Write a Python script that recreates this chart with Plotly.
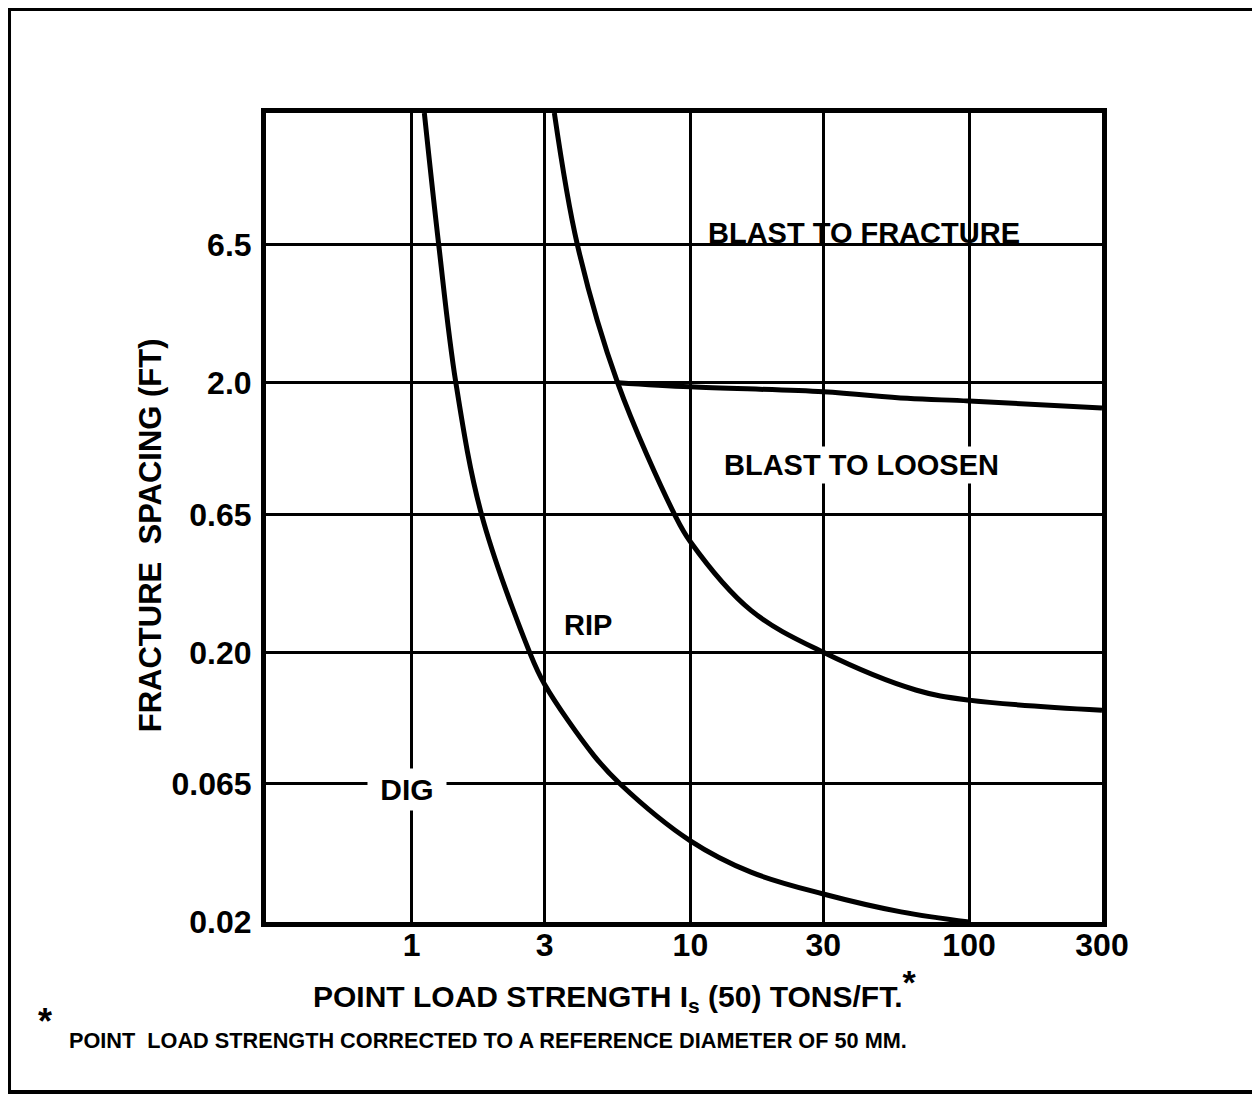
import math
import plotly.graph_objects as go

# ---- data ----
x_ticks = [1, 3, 10, 30, 100, 300]
x_ticktext = ["1", "3", "10", "30", "100", "300"]
y_ticks = [0.02, 0.065, 0.20, 0.65, 2.0, 6.5]
y_ticktext = ["0.02", "0.065", "0.20", "0.65", "2.0", "6.5"]

# DIG / RIP boundary
dig_rip_x = [1.11, 1.25, 1.44, 1.78, 2.65, 3.0, 4.5, 5.6, 10, 16.5, 30, 57, 100]
dig_rip_y = [20, 6.5, 2.0, 0.65, 0.20, 0.152, 0.083, 0.065, 0.040, 0.0306, 0.0254, 0.0218, 0.020]

# RIP / BLAST TO LOOSEN boundary
rip_blast_x = [3.25, 3.93, 5.48, 8.77, 10, 16.5, 30, 64.4, 100, 300]
rip_blast_y = [20, 6.5, 2.0, 0.65, 0.514, 0.286, 0.20, 0.145, 0.133, 0.122]

# BLAST TO LOOSEN / BLAST TO FRACTURE boundary
loosen_fracture_x = [5.48, 10, 30, 60, 100, 300]
loosen_fracture_y = [2.0, 1.93, 1.85, 1.75, 1.71, 1.61]

# region labels: (text, x, y)
region_labels = [
    ("BLAST TO FRACTURE", 42.0, 6.5),
    ("BLAST TO LOOSEN", 41.1, 0.99),
    ("RIP", 4.3, 0.253),
    ("DIG", 0.96, 0.0618),
]

x_range = [0.3, 300]
y_range = [0.02, 20]

FONT = "Liberation Sans, Arial, sans-serif"

fig = go.Figure()
for xs, ys in [(dig_rip_x, dig_rip_y), (rip_blast_x, rip_blast_y),
               (loosen_fracture_x, loosen_fracture_y)]:
    fig.add_trace(go.Scatter(
        x=xs, y=ys, mode="lines",
        line=dict(color="black", width=5, shape="spline", smoothing=1.0),
        showlegend=False, hoverinfo="skip"))

axis_common = dict(
    type="log", showgrid=True, gridcolor="black", gridwidth=3,
    showline=True, linecolor="black", linewidth=5, mirror=True,
    ticks="", zeroline=False,
    tickfont=dict(family=FONT, size=32, color="black", weight="bold"),
)

fig.update_xaxes(range=[math.log10(x_range[0]), math.log10(x_range[1])],
                 tickvals=x_ticks, ticktext=x_ticktext, ticklabelstandoff=-9,
                 **axis_common)
fig.update_yaxes(range=[math.log10(y_range[0]), math.log10(y_range[1])],
                 tickvals=y_ticks, ticktext=y_ticktext, ticklabelstandoff=3,
                 **axis_common)

# white gap in the x=100 gridline just above the "BLAST TO FRACTURE" label
fig.add_shape(type="rect", xref="x", yref="y", layer="between",
              x0=math.log10(94), x1=math.log10(106),
              y0=math.log10(6.75), y1=math.log10(8.8),
              fillcolor="white", line=dict(width=0))

lab_font = dict(family=FONT, size=29, color="black", weight="bold")
for text, x, y in region_labels:
    if text == "BLAST TO FRACTURE":
        fig.add_annotation(x=math.log10(x), y=math.log10(y), text=text,
                           showarrow=False, xanchor="center", yanchor="bottom",
                           yshift=-6, font=lab_font)
    elif text == "BLAST TO LOOSEN":
        fig.add_annotation(x=math.log10(x), y=math.log10(y), text=text,
                           showarrow=False, font=lab_font, bgcolor="white",
                           borderpad=2)
    elif text == "DIG":
        fig.add_annotation(x=math.log10(x), y=math.log10(y), text=" DIG ",
                           showarrow=False, font=dict(lab_font, size=30),
                           bgcolor="white", borderpad=4)
    else:
        fig.add_annotation(x=math.log10(x), y=math.log10(y), text=text,
                           showarrow=False, font=lab_font)

# axis titles and footnote (paper coords relative to plot area)
fig.add_annotation(xref="paper", yref="paper", x=-0.1388, y=0.478,
                   xanchor="center", yanchor="middle",
                   text="FRACTURE  SPACING (FT)", textangle=-90, showarrow=False,
                   font=dict(family=FONT, size=31, color="black", weight="bold"))
fig.add_annotation(xref="paper", yref="paper", x=0.4175, y=-0.084,
                   xanchor="center", yanchor="middle",
                   text="POINT LOAD STRENGTH I<sub>s</sub> (50) TONS/FT."
                        "<sup><span style='font-size:34px'>*</span></sup>",
                   showarrow=False,
                   font=dict(family=FONT, size=30, color="black", weight="bold"))
fig.add_annotation(xref="paper", yref="paper", x=-0.2644, y=-0.1236,
                   xanchor="center", yanchor="middle",
                   text="*", showarrow=False,
                   font=dict(family=FONT, size=36, color="black", weight="bold"))
fig.add_annotation(xref="paper", yref="paper", x=-0.238, y=-0.1459,
                   xanchor="left", yanchor="middle",
                   text="POINT  LOAD STRENGTH CORRECTED TO A REFERENCE DIAMETER OF 50 MM.",
                   showarrow=False,
                   font=dict(family=FONT, size=21.7, color="black", weight="bold"))

# outer frame
fig.add_shape(type="rect", xref="paper", yref="paper",
              x0=-0.3074, x1=1.183, y0=-0.2101, y1=1.1286,
              line=dict(color="black", width=4))

# page body adds an 8px offset, so the figure is 8px smaller on the far sides
fig.update_layout(
    width=1252, height=1089,
    margin=dict(l=258, r=158, t=105, b=175),
    paper_bgcolor="white", plot_bgcolor="white",
    showlegend=False,
)

fig.write_html("out.html")
